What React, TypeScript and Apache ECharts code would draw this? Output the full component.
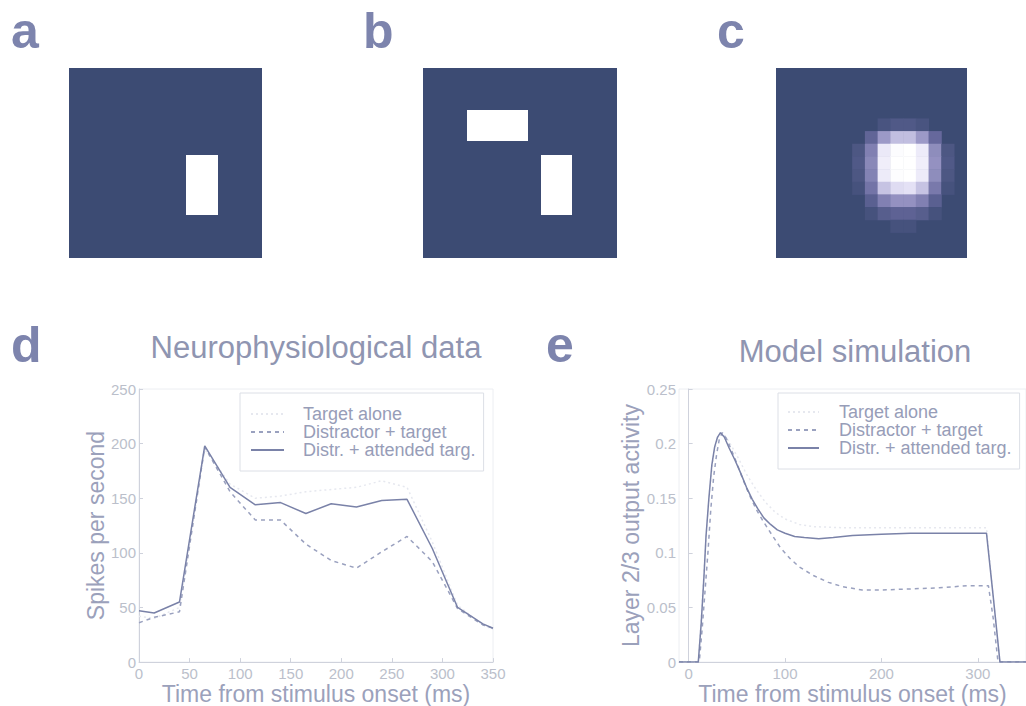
import React, { useEffect, useRef } from "react";
import * as echarts from "echarts";

const FONT = "'Liberation Sans', Arial, Helvetica, sans-serif";

const seriesNames = ["Target alone", "Distractor + target", "Distr. + attended targ."];

// Panel d – neurophysiological data (time ms, spikes/s)
const neuroTargetAlone = [
  [0, 42], [15, 40], [40, 50], [65, 195], [90, 163], [115, 150], [140, 152], [165, 156],
  [190, 158], [215, 160], [240, 166], [265, 160], [290, 110], [315, 52], [340, 34], [350, 30],
];
const neuroDistractor = [
  [0, 36], [15, 41], [40, 46], [65, 197], [90, 156], [115, 130], [140, 130], [165, 108],
  [190, 93], [215, 86], [240, 101], [265, 115], [290, 92], [315, 49], [340, 34], [350, 31],
];
const neuroAttended = [
  [0, 47], [15, 45], [40, 55], [65, 198], [90, 160], [115, 144], [140, 146], [165, 136],
  [190, 145], [215, 142], [240, 148], [265, 149], [290, 104], [315, 50], [340, 35], [350, 31],
];

// Panel e – model simulation (time ms, layer 2/3 activity)
const modelTargetAlone = [
  [-10, 0], [10, 0], [13, 0.04], [16, 0.085], [19, 0.125], [22, 0.16], [26, 0.19], [30, 0.205],
  [33, 0.21], [38, 0.207], [45, 0.197], [52, 0.186], [60, 0.172], [70, 0.158], [80, 0.146],
  [90, 0.137], [100, 0.131], [115, 0.126], [130, 0.124], [160, 0.123], [200, 0.123],
  [250, 0.123], [300, 0.123], [309, 0.123], [316, 0.06], [323, 0], [350, 0],
];
const modelDistractor = [
  [-10, 0], [11, 0], [14, 0.03], [17, 0.065], [20, 0.1], [23, 0.14], [26, 0.17], [29, 0.19],
  [32, 0.205], [35, 0.21], [39, 0.205], [44, 0.195], [50, 0.182], [56, 0.168], [62, 0.155],
  [70, 0.14], [78, 0.128], [86, 0.117], [95, 0.105], [105, 0.095], [115, 0.087], [130, 0.079],
  [145, 0.073], [160, 0.069], [180, 0.066], [200, 0.066], [230, 0.067], [260, 0.068],
  [290, 0.07], [311, 0.07], [316, 0.04], [321, 0], [350, 0],
];
const modelAttended = [
  [-10, 0], [10, 0], [13, 0.035], [16, 0.08], [18, 0.115], [21, 0.15], [24, 0.18], [27, 0.197],
  [30, 0.206], [33, 0.21], [37, 0.206], [42, 0.196], [48, 0.185], [54, 0.173], [60, 0.16],
  [66, 0.149], [72, 0.14], [78, 0.132], [85, 0.126], [92, 0.121], [100, 0.118], [110, 0.115],
  [120, 0.114], [135, 0.113], [150, 0.114], [170, 0.116], [200, 0.117], [230, 0.118],
  [260, 0.118], [290, 0.118], [309, 0.118], [316, 0.06], [323, 0], [350, 0],
];

const neuroXTicks = [0, 50, 100, 150, 200, 250, 300, 350];
const modelXTicks = [0, 100, 200, 300];

// Panel c – blurred stimulus (col, row, intensity) on a 15x15 pixel grid
const pixelIndex = ["0", "1", "2", "3", "4", "5", "6", "7", "8", "9", "10", "11", "12", "13", "14"];
const blobCells = [
  [8, 4, 0.08], [9, 4, 0.12], [10, 4, 0.12], [11, 4, 0.08],
  [7, 5, 0.22], [8, 5, 0.45], [9, 5, 0.6], [10, 5, 0.6], [11, 5, 0.45], [12, 5, 0.25],
  [6, 6, 0.1], [7, 6, 0.35], [8, 6, 0.8], [9, 6, 0.97], [10, 6, 1.0], [11, 6, 0.82], [12, 6, 0.4], [13, 6, 0.1],
  [6, 7, 0.12], [7, 7, 0.38], [8, 7, 0.85], [9, 7, 1.0], [10, 7, 1.0], [11, 7, 0.85], [12, 7, 0.42], [13, 7, 0.12],
  [6, 8, 0.1], [7, 8, 0.36], [8, 8, 0.82], [9, 8, 0.98], [10, 8, 1.0], [11, 8, 0.82], [12, 8, 0.4], [13, 8, 0.1],
  [6, 9, 0.06], [7, 9, 0.3], [8, 9, 0.62], [9, 9, 0.72], [10, 9, 0.74], [11, 9, 0.62], [12, 9, 0.32], [13, 9, 0.06],
  [7, 10, 0.18], [8, 10, 0.35], [9, 10, 0.42], [10, 10, 0.42], [11, 10, 0.35], [12, 10, 0.18],
  [7, 11, 0.06], [8, 11, 0.16], [9, 11, 0.2], [10, 11, 0.2], [11, 11, 0.16], [12, 11, 0.06],
  [9, 12, 0.06], [10, 12, 0.06],
];

const PANEL_BG = "#3c4b73";
const AXIS_COLOR = "#cfd2dc";
const TICK_LABEL = "#bbbfcb";
const NAME_COLOR = "#9ba1bb";
const LETTER_COLOR = "#7d84ad";

const styles = [
  { color: "#e6e8ef", width: 1.5, type: [2, 3] },
  { color: "#9aa1bf", width: 1.5, type: [4, 4] },
  { color: "#7a82a8", width: 1.5, type: "solid" },
];

function lineSeries(name: string, data: number[][], idx: number, styleIdx: number) {
  return {
    type: "line",
    name,
    data,
    xAxisIndex: idx,
    yAxisIndex: idx,
    showSymbol: false,
    symbol: "none",
    color: styles[styleIdx].color,
    lineStyle: styles[styleIdx],
    z: 2 + styleIdx,
  };
}

function valueAxisCommon() {
  return {
    type: "value",
    axisLine: { show: true, lineStyle: { color: AXIS_COLOR, width: 1 } },
    axisTick: { show: true, inside: true, length: 4, lineStyle: { color: AXIS_COLOR } },
    splitLine: { show: false },
    axisLabel: { color: TICK_LABEL, fontSize: 15, fontFamily: FONT },
    nameTextStyle: { color: NAME_COLOR, fontSize: 23, fontFamily: FONT },
    nameLocation: "middle",
  };
}

export default function App() {
  const ref = useRef<HTMLDivElement>(null);

  useEffect(() => {
    if (!ref.current) return;
    const chart = echarts.init(ref.current, null, { renderer: "svg" });

    const legendCommon = {
      orient: "vertical",
      data: seriesNames,
      selectedMode: false,
      itemHeight: 10,
      itemGap: 0,
      borderColor: "#dcdfe6",
      borderWidth: 1,
      borderRadius: 0,
      itemStyle: { opacity: 0 },
    };

    chart.setOption({
      animation: false,
      backgroundColor: "#ffffff",
      grid: [
        { left: 139, top: 389, width: 354, height: 276, show: true, borderColor: "#eceef2", borderWidth: 1 },
        { left: 679, top: 389, width: 347, height: 276, show: true, borderColor: "#eceef2", borderWidth: 1 },
        { left: 776, top: 68, width: 191, height: 190, show: true, backgroundColor: PANEL_BG, borderWidth: 0 },
      ],
      xAxis: [
        {
          ...valueAxisCommon(),
          gridIndex: 0,
          min: 0,
          max: 350,
          interval: 50,
          name: "Time from stimulus onset (ms)",
          nameGap: 18,
          axisLabel: { color: TICK_LABEL, fontSize: 15, fontFamily: FONT, margin: 4, customValues: neuroXTicks },
        },
        {
          ...valueAxisCommon(),
          gridIndex: 1,
          min: -10,
          max: 350,
          name: "Time from stimulus onset (ms)",
          nameGap: 18,
          axisTick: { show: true, inside: true, length: 4, lineStyle: { color: AXIS_COLOR }, customValues: modelXTicks },
          axisLabel: { color: TICK_LABEL, fontSize: 15, fontFamily: FONT, margin: 4, customValues: modelXTicks },
        },
        { type: "category", gridIndex: 2, data: pixelIndex, show: false },
      ],
      yAxis: [
        {
          ...valueAxisCommon(),
          gridIndex: 0,
          min: 0,
          max: 250,
          interval: 50,
          name: "Spikes per second",
          nameGap: 28,
          axisLabel: { color: TICK_LABEL, fontSize: 15, fontFamily: FONT, margin: 3 },
        },
        {
          ...valueAxisCommon(),
          gridIndex: 1,
          min: 0,
          max: 0.25,
          interval: 0.05,
          name: "Layer 2/3 output activity",
          nameGap: 35,
          axisLabel: { color: TICK_LABEL, fontSize: 15, fontFamily: FONT, margin: 3 },
        },
        { type: "category", gridIndex: 2, data: pixelIndex, show: false, inverse: true },
      ],
      visualMap: {
        show: false,
        type: "continuous",
        seriesIndex: 6,
        min: 0,
        max: 1,
        inRange: { color: [PANEL_BG, "#66689c", "#a9a5d2", "#e6e3f6", "#ffffff"] },
      },
      legend: [
        {
          ...legendCommon,
          left: 240,
          top: 393,
          itemWidth: 33,
          padding: [12, 8, 12, 10],
          textStyle: { fontSize: 18, color: "#979db8", fontFamily: FONT, padding: [0, 0, 0, 14] },
        },
        {
          ...legendCommon,
          left: 778,
          top: 393,
          itemWidth: 31,
          padding: [10, 8, 12, 9],
          textStyle: { fontSize: 18, color: "#979db8", fontFamily: FONT, padding: [0, 0, 0, 15] },
        },
      ],
      series: [
        lineSeries(seriesNames[0], neuroTargetAlone, 0, 0),
        lineSeries(seriesNames[1], neuroDistractor, 0, 1),
        lineSeries(seriesNames[2], neuroAttended, 0, 2),
        lineSeries(seriesNames[0], modelTargetAlone, 1, 0),
        lineSeries(seriesNames[1], modelDistractor, 1, 1),
        lineSeries(seriesNames[2], modelAttended, 1, 2),
        {
          type: "heatmap",
          xAxisIndex: 2,
          yAxisIndex: 2,
          data: blobCells,
          itemStyle: { borderWidth: 0 },
        },
      ],
      graphic: [
        // stimulus panels a and b
        { type: "rect", shape: { x: 69, y: 68, width: 193, height: 190 }, style: { fill: PANEL_BG } },
        { type: "rect", shape: { x: 186, y: 155, width: 32, height: 60 }, style: { fill: "#ffffff" } },
        { type: "rect", shape: { x: 423, y: 68, width: 194, height: 190 }, style: { fill: PANEL_BG } },
        { type: "rect", shape: { x: 467, y: 110, width: 61, height: 31 }, style: { fill: "#ffffff" } },
        { type: "rect", shape: { x: 541, y: 155, width: 31, height: 60 }, style: { fill: "#ffffff" } },
        // panel letters
        { type: "text", x: 11, y: 31, style: { text: "a", font: `bold 50px ${FONT}`, fill: LETTER_COLOR, verticalAlign: "middle" } },
        { type: "text", x: 363, y: 31, style: { text: "b", font: `bold 50px ${FONT}`, fill: LETTER_COLOR, verticalAlign: "middle" } },
        { type: "text", x: 717, y: 31, style: { text: "c", font: `bold 50px ${FONT}`, fill: LETTER_COLOR, verticalAlign: "middle" } },
        { type: "text", x: 11, y: 345, style: { text: "d", font: `bold 50px ${FONT}`, fill: LETTER_COLOR, verticalAlign: "middle" } },
        { type: "text", x: 546, y: 345, style: { text: "e", font: `bold 50px ${FONT}`, fill: LETTER_COLOR, verticalAlign: "middle" } },
        // titles
        { type: "text", x: 316, y: 347, style: { text: "Neurophysiological data", font: `31px ${FONT}`, fill: "#8f95b1", align: "center", verticalAlign: "middle" } },
        { type: "text", x: 855, y: 351, style: { text: "Model simulation", font: `31px ${FONT}`, fill: "#8f95b1", align: "center", verticalAlign: "middle" } },
      ],
    });

    return () => chart.dispose();
  }, []);

  return (
    <div
      ref={ref}
      style={{ position: "fixed", left: 0, top: 0, width: 1026, height: 706, background: "#ffffff" }}
    />
  );
}
